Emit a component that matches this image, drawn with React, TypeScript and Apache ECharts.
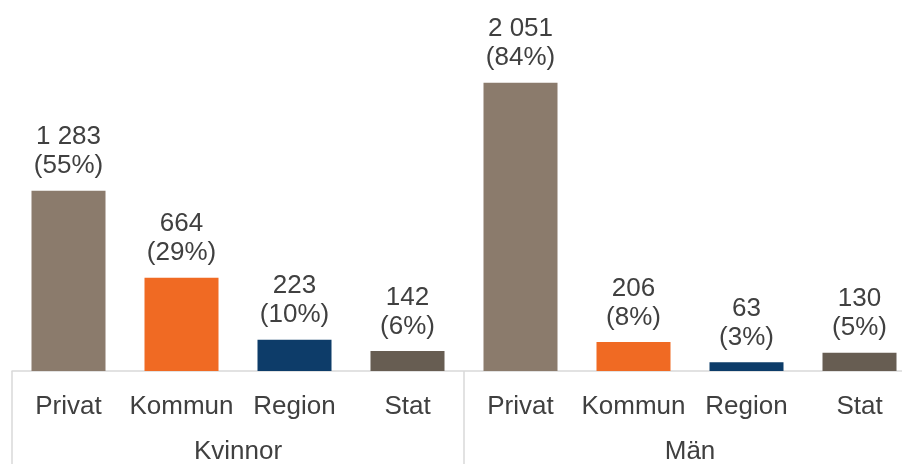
import React, { useEffect, useRef } from "react";
import * as echarts from "echarts";

const categories = ["Privat", "Kommun", "Region", "Stat", "Privat", "Kommun", "Region", "Stat"];
const groups = ["Kvinnor", "Män"];
const values = [1283, 664, 223, 142, 2051, 206, 63, 130];
const percents = [55, 29, 10, 6, 84, 8, 3, 5];
const colors = ["#8B7B6C", "#F06A23", "#0D3C69", "#675D52", "#8B7B6C", "#F06A23", "#0D3C69", "#675D52"];

const fmt = (v: number) => String(v).replace(/\B(?=(\d{3})+(?!\d))/g, " ");

export default function App() {
  const ref = useRef<HTMLDivElement>(null);
  useEffect(() => {
    const chart = echarts.init(ref.current!, null, { renderer: "svg" });
    const font = "'Liberation Sans', Arial, sans-serif";
    chart.setOption({
      animation: false,
      grid: { left: 12, top: 0, right: 0, bottom: 93, containLabel: false },
      xAxis: [
        {
          type: "category",
          data: categories,
          axisLine: { show: true, lineStyle: { color: "#D9D9D9", width: 1.5 } },
          axisTick: { show: false },
          axisLabel: { color: "#404040", fontSize: 26, fontFamily: font, margin: 21, interval: 0 },
        },
        {
          type: "category",
          data: groups,
          position: "bottom",
          axisLine: { show: false },
          axisTick: { show: true, length: 93, lineStyle: { color: "#D9D9D9", width: 1.5 } },
          axisLabel: { color: "#404040", fontSize: 26, lineHeight: 26, fontFamily: font, margin: 66, interval: 0 },
        },
      ],
      yAxis: { type: "value", min: 0, max: 2640, show: false, splitLine: { show: false } },
      series: [
        {
          type: "bar",
          xAxisIndex: 0,
          barWidth: 74,
          data: values.map((v, i) => ({ value: v, itemStyle: { color: colors[i] } })),
          label: {
            show: true,
            position: "top",
            distance: 12,
            color: "#404040",
            fontSize: 26,
            fontFamily: font,
            lineHeight: 29,
            formatter: (p: any) => `${fmt(values[p.dataIndex])}\n(${percents[p.dataIndex]}%)`,
          },
        },
      ],
    });
    return () => chart.dispose();
  }, []);
  return <div ref={ref} style={{ position: "fixed", left: 0, top: 0, width: 916, height: 464 }} />;
}
